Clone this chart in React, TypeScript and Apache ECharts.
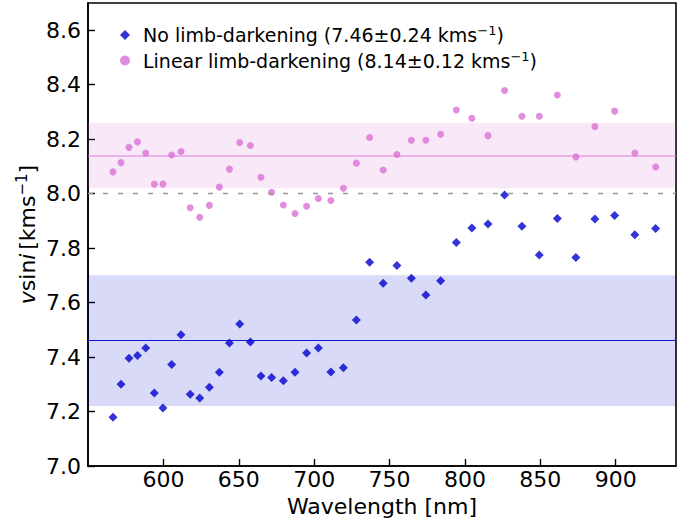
import React, { useEffect, useRef } from "react";
import * as echarts from "echarts";

// Wavelength of each spectral chunk (nm)
const wavelengths = [
  566.6, 571.9, 577.2, 582.8, 588.3, 594.0, 599.7, 605.5, 611.7, 617.8,
  624.1, 630.5, 637.1, 643.8, 650.6, 657.7, 664.7, 671.8, 679.6, 687.3,
  695.0, 702.8, 711.1, 719.4, 728.0, 736.8, 745.8, 754.9, 764.5, 774.1,
  783.9, 794.3, 804.6, 815.3, 826.3, 837.8, 849.3, 861.3, 873.6, 886.2,
  899.3, 912.7, 926.5,
];

// v sin i fitted without limb-darkening (km/s)
const noLimbDarkening = [
  7.179, 7.300, 7.396, 7.406, 7.433, 7.268, 7.213, 7.373, 7.482, 7.263,
  7.250, 7.289, 7.344, 7.452, 7.521, 7.455, 7.330, 7.325, 7.313, 7.344,
  7.415, 7.433, 7.345, 7.361, 7.536, 7.748, 7.671, 7.736, 7.689, 7.628,
  7.680, 7.821, 7.874, 7.889, 7.995, 7.880, 7.775, 7.909, 7.766, 7.907,
  7.920, 7.849, 7.872,
];

// v sin i fitted with a linear limb-darkening law (km/s)
const linearLimbDarkening = [
  8.080, 8.114, 8.170, 8.190, 8.149, 8.035, 8.035, 8.142, 8.155, 7.948,
  7.913, 7.957, 8.024, 8.090, 8.188, 8.177, 8.060, 8.005, 7.958, 7.927,
  7.954, 7.982, 7.975, 8.020, 8.112, 8.206, 8.087, 8.144, 8.196, 8.196,
  8.218, 8.307, 8.277, 8.213, 8.379, 8.284, 8.284, 8.362, 8.135, 8.246,
  8.303, 8.149, 8.098,
];

// Mean and scatter of each fit
const noLdMean = 7.46;
const noLdStd = 0.24;
const linLdMean = 8.14;
const linLdStd = 0.12;
const referenceValue = 8.0;

const xTicks = [600, 650, 700, 750, 800, 850, 900];
const yTicks = [7.0, 7.2, 7.4, 7.6, 7.8, 8.0, 8.2, 8.4, 8.6];

const BLUE = "#0000cd";
const PINK = "#da70d6";
const FONT = "DejaVu Sans";

const legendLabels: Record<string, string> = {
  "No limb-darkening": `{a|No limb-darkening (${noLdMean.toFixed(2)}±${noLdStd.toFixed(2)} kms}{sup|−1}{a|)}`,
  "Linear limb-darkening": `{a|Linear limb-darkening (${linLdMean.toFixed(2)}±${linLdStd.toFixed(2)} kms}{sup|−1}{a|)}`,
};

export default function App() {
  const ref = useRef<HTMLDivElement>(null);

  useEffect(() => {
    if (!ref.current) return;
    const chart = echarts.init(ref.current, undefined, { renderer: "svg" });
    const pairs = (ys: number[]) => wavelengths.map((w, i) => [w, ys[i]]);

    chart.setOption({
      animation: false,
      backgroundColor: "#ffffff",
      textStyle: { fontFamily: FONT },
      grid: {
        left: 88,
        right: 15,
        top: 3,
        bottom: 57,
        outerBoundsMode: "none",
        containLabel: false,
        show: true,
        borderColor: "#000",
        borderWidth: 1.6,
        backgroundColor: "transparent",
      },
      legend: {
        orient: "vertical",
        left: 115,
        top: 19,
        itemWidth: 10,
        itemHeight: 10,
        itemGap: 5,
        data: ["No limb-darkening", "Linear limb-darkening"],
        formatter: (name: string) => legendLabels[name],
        textStyle: {
          fontFamily: FONT,
          padding: [0, 0, 0, 8],
          rich: {
            a: { fontFamily: FONT, fontSize: 19, color: "#000", lineHeight: 22 },
            sup: { fontFamily: FONT, fontSize: 13, color: "#000", verticalAlign: "top", lineHeight: 22, padding: [0, 0, 6, 0] },
          },
        },
      },
      xAxis: {
        type: "value",
        min: 550,
        max: 940,
        name: "Wavelength [nm]",
        nameLocation: "middle",
        nameGap: 28,
        nameMoveOverlap: false,
        nameTextStyle: { fontFamily: FONT, fontSize: 22, color: "#000", verticalAlign: "top", lineHeight: 24 },
        axisLine: { show: true, lineStyle: { color: "#000", width: 1.6 } },
        axisTick: { show: true, inside: true, length: 7, lineStyle: { color: "#000", width: 1.4 }, customValues: xTicks },
        axisLabel: { fontFamily: FONT, fontSize: 22, lineHeight: 20, color: "#000", margin: 3, customValues: xTicks },
        splitLine: { show: false },
      },
      yAxis: {
        type: "value",
        min: 7.0,
        max: 8.7,
        name: "{it|v}{n|sin}{it|i} {n|[kms}{sup|−1}{n|]}",
        nameLocation: "middle",
        nameRotate: 90,
        nameGap: 48,
        nameMoveOverlap: false,
        nameTextStyle: {
          fontFamily: FONT,
          rich: {
            it: { fontFamily: FONT, fontSize: 22, fontStyle: "italic", color: "#000", lineHeight: 26 },
            n: { fontFamily: FONT, fontSize: 22, color: "#000", lineHeight: 26 },
            sup: { fontFamily: FONT, fontSize: 15, color: "#000", verticalAlign: "top", lineHeight: 26, padding: [0, 0, 8, 0] },
          },
        },
        axisLine: { show: true, lineStyle: { color: "#000", width: 1.6 } },
        axisTick: { show: true, inside: true, length: 7, lineStyle: { color: "#000", width: 1.4 }, customValues: yTicks },
        axisLabel: {
          fontFamily: FONT,
          fontSize: 22,
          color: "#000",
          margin: 7,
          customValues: yTicks,
          formatter: (v: number) => v.toFixed(1),
        },
        splitLine: { show: false },
      },
      series: [
        {
          // shaded ±1σ bands, mean lines and the reference level
          name: "bands",
          type: "line",
          data: [],
          silent: true,
          z: 1,
          markArea: {
            silent: true,
            data: [
              [
                { yAxis: noLdMean - noLdStd, itemStyle: { color: "rgba(0,0,205,0.15)" } },
                { yAxis: noLdMean + noLdStd },
              ],
              [
                { yAxis: linLdMean - linLdStd, itemStyle: { color: "rgba(218,112,214,0.16)" } },
                { yAxis: linLdMean + linLdStd },
              ],
            ],
          },
          markLine: {
            silent: true,
            symbol: ["none", "none"],
            label: { show: false },
            data: [
              { yAxis: noLdMean, lineStyle: { color: BLUE, width: 1, type: "solid", opacity: 0.9 } },
              { yAxis: linLdMean, lineStyle: { color: PINK, width: 1.5, type: "solid", opacity: 0.6 } },
              { yAxis: referenceValue, lineStyle: { color: "#999", width: 1.3, type: [5, 10] } },
            ],
          },
        },
        {
          name: "No limb-darkening",
          type: "scatter",
          symbol: "diamond",
          symbolSize: 9,
          z: 3,
          itemStyle: { color: BLUE },
          data: pairs(noLimbDarkening),
        },
        {
          name: "Linear limb-darkening",
          type: "scatter",
          symbol: "circle",
          symbolSize: 7,
          z: 3,
          itemStyle: { color: PINK },
          data: pairs(linearLimbDarkening),
        },
      ],
    });

    return () => chart.dispose();
  }, []);

  return (
    <div
      ref={ref}
      style={{ position: "fixed", left: 0, top: 0, width: 691, height: 523 }}
    />
  );
}
